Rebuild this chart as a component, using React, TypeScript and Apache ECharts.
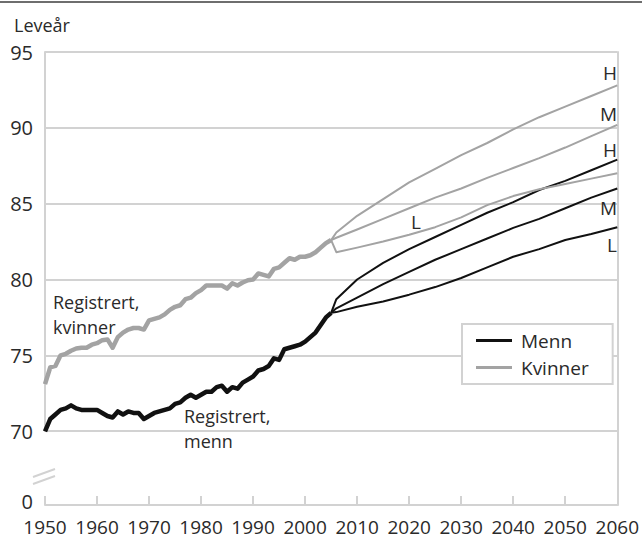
import React, { useEffect, useRef } from "react";
import * as echarts from "echarts";

const regYears = [
  1950, 1951, 1952, 1953, 1954, 1955, 1956, 1957, 1958, 1959, 1960, 1961, 1962, 1963, 1964, 1965, 1966, 1967, 1968, 1969,
  1970, 1971, 1972, 1973, 1974, 1975, 1976, 1977, 1978, 1979, 1980, 1981, 1982, 1983, 1984, 1985, 1986, 1987, 1988, 1989,
  1990, 1991, 1992, 1993, 1994, 1995, 1996, 1997, 1998, 1999, 2000, 2001, 2002, 2003, 2004, 2005,
];
const regMen = [
  69.9, 70.8, 71.1, 71.4, 71.5, 71.7, 71.5, 71.4, 71.4, 71.4, 71.4, 71.2, 71.0, 70.9, 71.3, 71.1, 71.3, 71.2, 71.2, 70.8,
  71.0, 71.2, 71.3, 71.4, 71.5, 71.8, 71.9, 72.2, 72.4, 72.2, 72.4, 72.6, 72.6, 72.9, 73.0, 72.6, 72.9, 72.8, 73.2, 73.4,
  73.6, 74.0, 74.1, 74.3, 74.8, 74.7, 75.4, 75.5, 75.6, 75.7, 75.9, 76.2, 76.5, 77.0, 77.5, 77.8,
];
const regWomen = [
  73.1, 74.2, 74.3, 75.0, 75.1, 75.3, 75.45, 75.5, 75.5, 75.7, 75.8, 76.0, 76.05, 75.5, 76.2, 76.5, 76.7, 76.8, 76.8, 76.7,
  77.3, 77.4, 77.5, 77.7, 78.0, 78.2, 78.3, 78.7, 78.8, 79.1, 79.3, 79.6, 79.6, 79.6, 79.6, 79.4, 79.75, 79.6, 79.8, 79.95,
  80.0, 80.4, 80.3, 80.2, 80.7, 80.8, 81.1, 81.4, 81.3, 81.5, 81.5, 81.6, 81.8, 82.1, 82.4, 82.6,
];

const projYears = [2005, 2006, 2010, 2015, 2020, 2025, 2030, 2035, 2040, 2045, 2050, 2055, 2060];
const menH = [77.8, 78.7, 80.0, 81.1, 82.0, 82.8, 83.6, 84.4, 85.1, 85.9, 86.5, 87.2, 87.9];
const menM = [77.8, 78.1, 78.8, 79.7, 80.5, 81.3, 82.0, 82.7, 83.4, 84.0, 84.7, 85.4, 86.0];
const menL = [77.8, 77.85, 78.2, 78.55, 79.0, 79.5, 80.1, 80.8, 81.5, 82.0, 82.6, 83.0, 83.45];
const womenH = [82.6, 83.1, 84.2, 85.3, 86.4, 87.3, 88.2, 89.0, 89.9, 90.7, 91.4, 92.1, 92.8];
const womenM = [82.6, 82.75, 83.3, 84.0, 84.7, 85.4, 86.0, 86.7, 87.35, 88.0, 88.7, 89.45, 90.2];
const womenL = [82.6, 81.8, 82.1, 82.5, 82.95, 83.45, 84.1, 84.9, 85.5, 85.95, 86.3, 86.65, 87.0];

const xTicks = [1950, 1960, 1970, 1980, 1990, 2000, 2010, 2020, 2030, 2040, 2050, 2060];
const yTickLabels = [0, 70, 75, 80, 85, 90, 95];
const breakFrom = 0;
const breakTo = 70;

const FONT = "Open Sans";
const TXT = "#2a2a2a";
const GRID = "#d2d2d2";
const MEN = "#111111";
const WOMEN = "#a3a3a3";

const pairs = (xs: number[], ys: number[]) => xs.map((x, i) => [x, ys[i]]);

export default function App() {
  const ref = useRef<HTMLDivElement>(null);
  useEffect(() => {
    document.body.style.margin = "0";
    const chart = echarts.init(ref.current!, null, { renderer: "svg" });
    const line = (name: string, data: number[][], color: string, width: number, extra: any = {}) => ({
      type: "line",
      name,
      data,
      showSymbol: false,
      symbol: "none",
      lineStyle: { color, width, join: "round" },
      itemStyle: { color },
      z: width > 3 ? 3 : 2,
      ...extra,
    });
    const txt = (text: string, x: number, y: number, align = "left", size = 19) => ({
      type: "text",
      x,
      y,
      style: { text, fill: TXT, font: `${size}px "${FONT}"`, lineHeight: 25, align, verticalAlign: "middle" },
      z: 10,
    });
    chart.setOption({
      animation: false,
      textStyle: { fontFamily: FONT },
      title: {
        text: "Leveår",
        left: 9,
        top: 11,
        textStyle: { fontSize: 18, fontWeight: "normal", color: TXT, fontFamily: FONT },
      },
      grid: { left: 45, right: 23, top: 52, bottom: 34, containLabel: false },
      legend: {
        orient: "vertical",
        left: 462,
        top: 324,
        padding: [7, 24, 7, 14],
        borderColor: GRID,
        borderWidth: 2,
        backgroundColor: "#fff",
        icon: "rect",
        itemWidth: 36,
        itemHeight: 3,
        itemGap: 8,
        selectedMode: false,
        data: ["Menn", "Kvinner"],
        textStyle: { fontSize: 19, color: TXT, fontFamily: FONT, padding: [0, 0, 0, 4] },
      },
      xAxis: {
        type: "value",
        min: 1950,
        max: 2060,
        interval: 10,
        axisLine: { show: true, lineStyle: { color: GRID, width: 2 } },
        axisTick: { show: true, inside: true, length: 9, lineStyle: { color: GRID, width: 2 } },
        splitLine: { show: false },
        axisLabel: {
          color: TXT,
          fontSize: 19,
          lineHeight: 20,
          fontFamily: FONT,
          margin: 12,
          formatter: (v: number) => (xTicks.includes(v) ? String(v) : ""),
        },
      },
      yAxis: [
        {
          type: "value",
          min: 0,
          max: 95,
          interval: 5,
          breaks: [{ start: breakFrom, end: breakTo, gap: "16.3%" }],
          breakArea: { show: false },
          axisLine: { show: true, lineStyle: { color: GRID, width: 2 } },
          axisTick: { show: false },
          splitLine: { show: true, lineStyle: { color: GRID, width: 2 } },
          axisLabel: {
            color: TXT,
            fontSize: 20,
            fontFamily: FONT,
            margin: 12,
            rich: {
              z: { fontSize: 20, color: TXT, fontFamily: FONT, padding: [0, 0, 7, 0] },
            },
            formatter: (v: any) => {
              const n = typeof v === "number" ? v : Number(v);
              if (n === 0) return "{z|0}";
              return yTickLabels.includes(n) ? String(n) : "";
            },
          },
        },
        {
          type: "value",
          position: "right",
          min: 0,
          max: 95,
          axisLine: { show: true, lineStyle: { color: GRID, width: 2 } },
          axisTick: { show: false },
          axisLabel: { show: false },
          splitLine: { show: false },
        },
      ],
      series: [
        line("Menn", pairs(regYears, regMen), MEN, 4.5, {
          markLine: {
            silent: true,
            symbol: "none",
            label: { show: false },
            lineStyle: { color: GRID, width: 2, type: "solid" },
            z: 1,
            data: [{ yAxis: breakTo }],
          },
        }),
        line("Kvinner", pairs(regYears, regWomen), WOMEN, 4.5),
        line("Menn", pairs(projYears, menH), MEN, 2),
        line("Menn", pairs(projYears, menM), MEN, 2),
        line("Menn", pairs(projYears, menL), MEN, 2),
        line("Kvinner", pairs(projYears, womenH), WOMEN, 2),
        line("Kvinner", pairs(projYears, womenM), WOMEN, 2),
        line("Kvinner", pairs(projYears, womenL), WOMEN, 2),
      ],
      graphic: [
        { type: "line", shape: { x1: 0, y1: 2, x2: 642, y2: 2 }, style: { stroke: "#6e6e6e", lineWidth: 2 }, z: 10 },
        { type: "rect", shape: { x: 40, y: 472, width: 10, height: 9 }, style: { fill: "#fff" }, z: 10 },
        { type: "line", shape: { x1: 33, y1: 484, x2: 55, y2: 476 }, style: { stroke: GRID, lineWidth: 2 }, z: 11 },
        { type: "line", shape: { x1: 33, y1: 477, x2: 55, y2: 469 }, style: { stroke: GRID, lineWidth: 2 }, z: 11 },
        txt("Registrert,\nkvinner", 53, 314, "left", 18),
        txt("Registrert,\nmenn", 184, 428, "left", 18),
        txt("H", 617, 73, "right"),
        txt("M", 617, 114, "right"),
        txt("H", 617, 150, "right"),
        txt("M", 617, 208, "right"),
        txt("L", 617, 245, "right"),
        txt("L", 411, 222),
      ],
    });
    return () => chart.dispose();
  }, []);
  return <div ref={ref} style={{ position: "absolute", left: 0, top: 0, width: 642, height: 539 }} />;
}
